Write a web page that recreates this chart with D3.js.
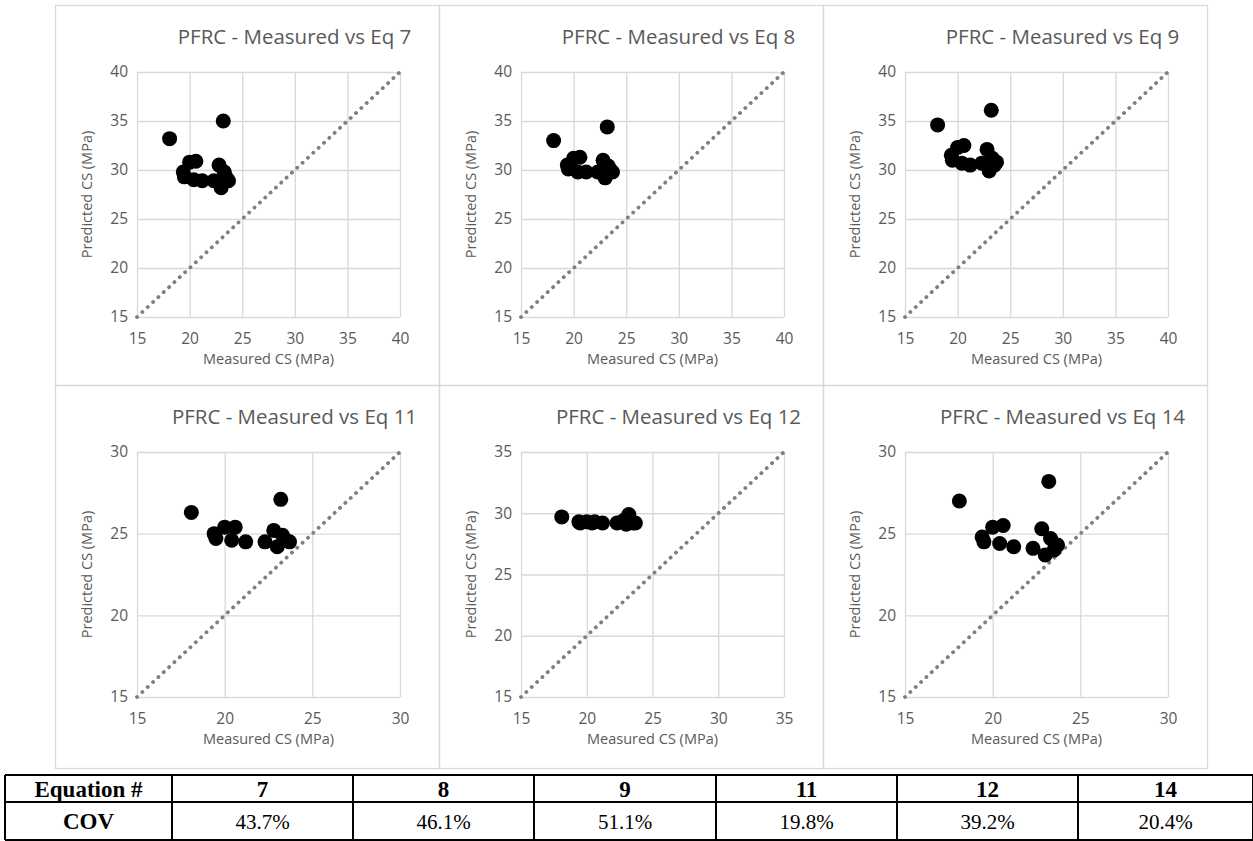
<!DOCTYPE html>
<html><head><meta charset="utf-8">
<script src="https://cdn.jsdelivr.net/npm/d3@7"></script>
<style>
html,body{margin:0;padding:0;background:#fff;}
svg{display:block;}
</style></head>
<body>
<svg id="chart" width="1253" height="841"></svg>
<script>
// ---------------- DATA ----------------
const measured = [18.1, 19.4, 19.5, 20.0, 20.6, 20.4, 21.2, 22.3, 22.8, 23.0, 23.2, 23.3, 23.5, 23.7];
const eq7  = [33.2, 29.8, 29.3, 30.8, 30.9, 29.0, 28.9, 28.9, 30.5, 28.2, 35.0, 29.8, 29.2, 28.9];
const eq8  = [33.0, 30.5, 30.1, 31.2, 31.3, 29.8, 29.8, 29.8, 31.0, 29.2, 34.4, 30.4, 30.0, 29.8];
const eq9  = [34.6, 31.5, 31.0, 32.3, 32.5, 30.7, 30.5, 30.7, 32.1, 29.9, 36.1, 31.2, 30.5, 30.8];
const eq11 = [26.3, 25.0, 24.7, 25.4, 25.4, 24.6, 24.5, 24.5, 25.2, 24.2, 27.1, 24.9, 24.6, 24.5];
const eq12 = [29.7, 29.3, 29.2, 29.3, 29.3, 29.2, 29.2, 29.2, 29.4, 29.1, 29.9, 29.3, 29.2, 29.2];
const eq14 = [27.0, 24.8, 24.5, 25.4, 25.5, 24.4, 24.2, 24.1, 25.3, 23.7, 28.2, 24.7, 24.0, 24.3];
const panelSeries = [eq7, eq8, eq9, eq11, eq12, eq14];
const panelTitles = ["PFRC - Measured vs Eq 7", "PFRC - Measured vs Eq 8", "PFRC - Measured vs Eq 9",
                     "PFRC - Measured vs Eq 11", "PFRC - Measured vs Eq 12", "PFRC - Measured vs Eq 14"];
const ticks40 = [15, 20, 25, 30, 35, 40];
const ticks35 = [15, 20, 25, 30, 35];
const ticks30 = [15, 20, 25, 30];
const panelTicks = [ticks40, ticks40, ticks40, ticks30, ticks35, ticks30];
const xAxisTitle = "Measured CS (MPa)";
const yAxisTitle = "Predicted CS (MPa)";
const tableHeaderLabel = "Equation #";
const tableRowLabel = "COV";
const tableEquations = ["7", "8", "9", "11", "12", "14"];
const tableCOV = ["43.7%", "46.1%", "51.1%", "19.8%", "39.2%", "20.4%"];

// ---------------- LAYOUT ----------------
const svg = d3.select("#chart");
const FONT = "'Open Sans', 'Noto Sans', sans-serif";
const TXT = "#595959";
const GRID = "#d9d9d9";
const colX = [55, 439, 823];
const rowY = [5, 385];
const panelW = 384, panelH = 380;
const plotL = 82, plotW = 263, plotT = 67, plotH = 245;

// panel borders
panelSeries.forEach((s, i) => {
  const px = colX[i % 3], py = rowY[Math.floor(i / 3)];
  svg.append("rect").attr("x", px + 0.5).attr("y", py + 0.5)
    .attr("width", panelW).attr("height", i < 3 ? panelH : panelH + 3)
    .attr("fill", "none").attr("stroke", GRID).attr("stroke-width", 1.3);
});

panelSeries.forEach((series, i) => {
  const px = colX[i % 3], py = rowY[Math.floor(i / 3)];
  const ticks = panelTicks[i];
  const lo = ticks[0], hi = ticks[ticks.length - 1];
  const x = d3.scaleLinear().domain([lo, hi]).range([px + plotL, px + plotL + plotW]);
  const y = d3.scaleLinear().domain([lo, hi]).range([py + plotT + plotH, py + plotT]);
  const g = svg.append("g");

  // gridlines via axes
  g.append("g").attr("transform", `translate(0,${py + plotT + plotH})`)
    .call(d3.axisBottom(x).tickValues(ticks).tickSize(-plotH).tickFormat(""))
    .call(a => a.select(".domain").remove())
    .call(a => a.selectAll("line").attr("stroke", GRID).attr("stroke-width", 1.3));
  g.append("g").attr("transform", `translate(${px + plotL},0)`)
    .call(d3.axisLeft(y).tickValues(ticks).tickSize(-plotW).tickFormat(""))
    .call(a => a.select(".domain").remove())
    .call(a => a.selectAll("line").attr("stroke", GRID).attr("stroke-width", 1.3));

  // tick labels
  g.append("g").attr("transform", `translate(0,${py + plotT + plotH})`)
    .call(d3.axisBottom(x).tickValues(ticks).tickSize(0).tickPadding(16))
    .call(a => a.select(".domain").remove())
    .call(a => a.selectAll("text").attr("fill", TXT).style("font-family", FONT).style("font-size", "15.5px"));
  g.append("g").attr("transform", `translate(${px + plotL},0)`)
    .call(d3.axisLeft(y).tickValues(ticks).tickSize(0).tickPadding(9))
    .call(a => a.select(".domain").remove())
    .call(a => a.selectAll("text").attr("fill", TXT).style("font-family", FONT).style("font-size", "15.5px"));

  // diagonal 1:1 line
  g.append("line")
    .attr("x1", x(lo)).attr("y1", y(lo)).attr("x2", x(hi)).attr("y2", y(hi))
    .attr("stroke", "#7f7f7f").attr("stroke-width", 3.8)
    .attr("stroke-linecap", "round").attr("stroke-dasharray", "0.1,7.2");

  // points
  g.selectAll("circle.pt").data(series).enter().append("circle")
    .attr("class", "pt")
    .attr("cx", (d, k) => x(measured[k])).attr("cy", d => y(d))
    .attr("r", 7.5).attr("fill", "#000");

  // titles
  g.append("text").attr("x", px + plotL + plotW / 2 + 26).attr("y", py + 39)
    .attr("text-anchor", "middle").attr("fill", TXT)
    .style("font-family", FONT).style("font-size", "20.5px").text(panelTitles[i]);
  g.append("text").attr("x", px + plotL + plotW / 2).attr("y", py + plotT + plotH + 47)
    .attr("text-anchor", "middle").attr("fill", TXT)
    .style("font-family", FONT).style("font-size", "14.5px").text(xAxisTitle);
  g.append("text")
    .attr("transform", `translate(${px + 37},${py + plotT + plotH / 2}) rotate(-90)`)
    .attr("text-anchor", "middle").attr("fill", TXT)
    .style("font-family", FONT).style("font-size", "14.5px").text(yAxisTitle);
});

// ---------------- TABLE ----------------
const tblTop = 775, tblMid = 802, tblBot = 840;
const colEdges = [5, 172, 353, 534, 716, 897, 1078, 1253];
const tg = svg.append("g");
[tblTop, tblMid, tblBot].forEach(yy => {
  tg.append("line").attr("x1", colEdges[0]).attr("x2", colEdges[colEdges.length - 1])
    .attr("y1", yy).attr("y2", yy).attr("stroke", "#000").attr("stroke-width", 2);
});
colEdges.forEach(xx => {
  tg.append("line").attr("x1", xx).attr("x2", xx).attr("y1", tblTop).attr("y2", tblBot)
    .attr("stroke", "#000").attr("stroke-width", 2);
});
const SERIF = "'Liberation Serif', 'Times New Roman', serif";
const cx = k => (colEdges[k] + colEdges[k + 1]) / 2;
tg.append("text").attr("x", cx(0)).attr("y", (tblTop + tblMid) / 2 + 8)
  .attr("text-anchor", "middle").style("font-family", SERIF).style("font-size", "23px")
  .style("font-weight", "bold").text(tableHeaderLabel);
tg.append("text").attr("x", cx(0)).attr("y", (tblMid + tblBot) / 2 + 8)
  .attr("text-anchor", "middle").style("font-family", SERIF).style("font-size", "23px")
  .style("font-weight", "bold").text(tableRowLabel);
tableEquations.forEach((e, k) => {
  tg.append("text").attr("x", cx(k + 1)).attr("y", (tblTop + tblMid) / 2 + 8)
    .attr("text-anchor", "middle").style("font-family", SERIF).style("font-size", "23px")
    .style("font-weight", "bold").text(e);
  tg.append("text").attr("x", cx(k + 1)).attr("y", (tblMid + tblBot) / 2 + 8)
    .attr("text-anchor", "middle").style("font-family", SERIF).style("font-size", "21px")
    .text(tableCOV[k]);
});
</script>
</body></html>
